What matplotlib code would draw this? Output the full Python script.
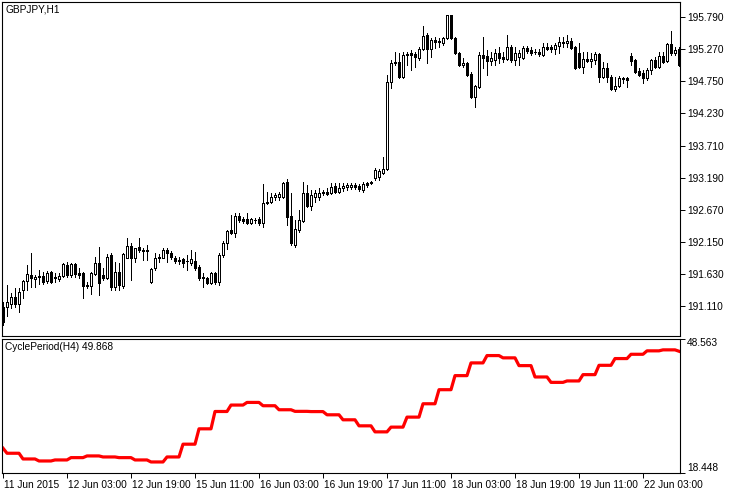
import numpy as np
import matplotlib.pyplot as plt
from matplotlib.transforms import ScaledTranslation

plt.rcParams['font.family'] = ['Liberation Sans', 'DejaVu Sans']

# GBPJPY H1 candles, 11 Jun 2015 11:00 onwards
opens = [191.10, 191.10, 191.15, 191.26, 191.15, 191.37, 191.52, 191.62, 191.55, 191.58,
         191.60, 191.52, 191.66, 191.58, 191.55, 191.60, 191.78, 191.62, 191.79, 191.65,
         191.65, 191.46, 191.44, 191.63, 191.81, 191.62, 191.57, 191.94, 191.42, 191.66,
         191.44, 191.89, 192.09, 191.89, 192.07, 192.02, 192.02, 191.50, 191.73, 191.91,
         191.89, 192.02, 191.97, 191.89, 191.86, 191.87, 191.84, 191.81, 191.84, 191.75,
         191.58, 191.57, 191.49, 191.65, 191.50, 191.94, 192.13, 192.34, 192.30, 192.57,
         192.52, 192.52, 192.46, 192.51, 192.52, 192.46, 192.80, 192.80, 192.88, 192.88,
         192.88, 193.12, 192.57, 192.10, 192.34, 192.49, 192.94, 192.73, 192.88, 192.88,
         192.94, 192.96, 192.94, 193.06, 192.96, 193.02, 193.04, 193.04, 193.07, 193.06,
         192.99, 193.10, 193.12, 193.19, 193.20, 193.27, 193.33, 194.74, 195.06, 195.06,
         194.82, 195.19, 195.21, 195.19, 195.13, 195.27, 195.50, 195.27, 195.42, 195.39,
         195.37, 195.45, 195.82, 195.45, 195.21, 195.01, 195.05, 194.87, 194.50, 194.66,
         195.18, 195.16, 195.08, 195.09, 195.21, 195.14, 195.11, 195.30, 195.09, 195.14,
         195.13, 195.29, 195.26, 195.22, 195.22, 195.18, 195.30, 195.30, 195.27, 195.32,
         195.37, 195.37, 195.40, 195.30, 195.21, 194.98, 195.11, 195.08, 195.09, 195.19,
         194.82, 194.97, 194.82, 194.63, 194.67, 194.80, 194.80, 195.16, 195.09, 194.92,
         194.88, 194.80, 194.93, 195.09, 194.98, 195.16, 195.08, 195.35, 195.21, 195.27]
highs = [191.18, 191.46, 191.33, 191.41, 191.41, 191.54, 191.78, 191.97, 191.62, 191.70,
         191.66, 191.68, 191.68, 191.65, 191.65, 191.81, 191.83, 191.81, 191.81, 191.73,
         191.66, 191.50, 191.66, 191.91, 192.07, 191.73, 191.96, 191.97, 191.83, 191.81,
         191.97, 192.22, 192.13, 192.05, 192.22, 192.05, 192.10, 191.73, 191.97, 191.96,
         192.05, 192.05, 192.00, 191.92, 191.91, 191.89, 191.94, 192.02, 191.99, 191.78,
         191.65, 191.58, 191.66, 191.66, 191.97, 192.17, 192.34, 192.59, 192.62, 192.62,
         192.56, 192.62, 192.54, 192.54, 192.56, 193.09, 192.96, 192.94, 192.94, 192.96,
         193.12, 193.17, 192.94, 192.51, 192.67, 193.12, 193.07, 192.99, 192.99, 193.02,
         192.99, 193.02, 193.10, 193.10, 193.10, 193.10, 193.10, 193.10, 193.10, 193.09,
         193.12, 193.12, 193.14, 193.35, 193.33, 193.53, 194.85, 195.09, 195.22, 195.21,
         195.22, 195.22, 195.26, 195.22, 195.30, 195.64, 195.53, 195.45, 195.47, 195.45,
         195.47, 195.82, 195.82, 195.47, 195.22, 195.13, 195.06, 194.90, 194.69, 195.22,
         195.47, 195.26, 195.22, 195.27, 195.30, 195.22, 195.50, 195.34, 195.30, 195.26,
         195.32, 195.32, 195.30, 195.27, 195.27, 195.37, 195.37, 195.34, 195.37, 195.47,
         195.47, 195.50, 195.45, 195.32, 195.37, 195.22, 195.22, 195.21, 195.22, 195.21,
         195.06, 195.05, 194.85, 194.82, 194.84, 194.82, 194.82, 195.21, 195.11, 194.97,
         194.93, 194.97, 195.11, 195.14, 195.22, 195.22, 195.37, 195.56, 195.30, 195.30]
lows = [190.81, 190.95, 191.08, 191.10, 191.02, 191.24, 191.37, 191.42, 191.42, 191.47,
        191.47, 191.49, 191.49, 191.50, 191.52, 191.58, 191.58, 191.58, 191.58, 191.57,
        191.24, 191.41, 191.31, 191.62, 191.29, 191.54, 191.55, 191.37, 191.37, 191.37,
        191.41, 191.89, 191.54, 191.83, 191.99, 191.86, 191.86, 191.49, 191.70, 191.83,
        191.89, 191.83, 191.87, 191.81, 191.79, 191.75, 191.70, 191.78, 191.70, 191.54,
        191.42, 191.47, 191.47, 191.47, 191.46, 191.91, 192.04, 192.28, 192.23, 192.47,
        192.46, 192.44, 192.44, 192.46, 192.43, 192.39, 192.77, 192.78, 192.83, 192.83,
        192.86, 192.43, 192.10, 192.07, 192.31, 192.47, 192.72, 192.67, 192.80, 192.83,
        192.91, 192.91, 192.93, 192.94, 192.94, 192.97, 192.99, 193.01, 193.01, 192.97,
        192.96, 193.04, 193.09, 193.15, 193.15, 193.25, 193.32, 194.64, 195.01, 194.80,
        194.80, 195.01, 194.93, 194.98, 195.09, 195.26, 195.05, 195.14, 195.29, 195.30,
        195.34, 195.43, 195.43, 195.19, 195.00, 194.98, 194.84, 194.48, 194.33, 194.64,
        194.97, 194.85, 195.01, 195.01, 195.05, 195.06, 195.09, 195.06, 195.01, 195.01,
        195.11, 195.21, 195.18, 195.19, 195.16, 195.16, 195.26, 195.22, 195.19, 195.21,
        195.30, 195.30, 195.27, 194.95, 194.97, 194.88, 195.06, 194.98, 195.03, 194.74,
        194.80, 194.74, 194.61, 194.59, 194.66, 194.72, 194.66, 195.01, 194.88, 194.84,
        194.72, 194.77, 194.87, 194.97, 194.97, 195.05, 195.06, 195.18, 195.18, 195.00]
closes = [190.86, 191.18, 191.26, 191.15, 191.34, 191.52, 191.63, 191.57, 191.58, 191.60,
          191.50, 191.65, 191.50, 191.57, 191.60, 191.79, 191.62, 191.79, 191.63, 191.62,
          191.44, 191.44, 191.65, 191.81, 191.49, 191.57, 191.91, 191.42, 191.66, 191.46,
          191.96, 192.09, 191.89, 192.05, 192.02, 192.01, 192.01, 191.71, 191.89, 191.89,
          192.02, 191.97, 191.91, 191.84, 191.84, 191.81, 191.85, 191.87, 191.73, 191.57,
          191.57, 191.49, 191.65, 191.50, 191.94, 192.13, 192.33, 192.30, 192.57, 192.51,
          192.49, 192.46, 192.52, 192.50, 192.46, 192.78, 192.78, 192.88, 192.91, 192.93,
          193.10, 192.56, 192.13, 192.36, 192.51, 192.94, 192.73, 192.91, 192.94, 192.94,
          192.96, 192.93, 193.04, 192.96, 193.02, 193.06, 193.07, 193.07, 193.04, 193.01,
          193.09, 193.07, 193.10, 193.32, 193.30, 193.33, 194.74, 195.05, 195.05, 194.82,
          195.18, 195.18, 195.18, 195.14, 195.27, 195.48, 195.27, 195.42, 195.39, 195.40,
          195.45, 195.82, 195.45, 195.21, 195.01, 195.05, 194.85, 194.50, 194.67, 195.18,
          195.13, 195.08, 195.13, 195.21, 195.13, 195.11, 195.30, 195.09, 195.21, 195.21,
          195.29, 195.24, 195.21, 195.23, 195.19, 195.30, 195.27, 195.27, 195.34, 195.39,
          195.39, 195.40, 195.29, 194.97, 194.98, 195.11, 195.08, 195.11, 195.19, 194.82,
          194.97, 194.82, 194.63, 194.67, 194.80, 194.79, 194.77, 195.08, 194.90, 194.85,
          194.80, 194.93, 195.09, 194.98, 195.16, 195.06, 195.35, 195.21, 195.26, 195.01]

# CyclePeriod(H4) values; each H4 value spans its H1 bars
cycle_h4 = [24.00, 22.87, 21.59, 21.14, 21.37, 21.89, 22.27, 22.04, 21.89, 21.37,
            20.92, 22.04, 24.90, 28.34, 32.22, 33.66, 34.25, 33.51, 32.61, 32.25,
            32.20, 31.48, 30.36, 29.01, 27.66, 28.72, 30.96, 33.95, 37.10, 40.25,
            43.10, 44.74, 44.23, 42.49, 39.95, 38.74, 39.06, 40.47, 42.56, 44.07,
            45.03, 45.80, 46.02, 45.71]
h1_bars_per_h4 = [1] + [4] * 42 + [1]

price_ticks = [191.110, 191.630, 192.150, 192.670, 193.190,
               193.710, 194.230, 194.750, 195.270, 195.790]
time_pos = [0, 16, 32, 48, 64, 80, 96, 112, 128, 144, 160]
time_labels = ['11 Jun 2015', '12 Jun 03:00', '12 Jun 19:00', '15 Jun 11:00',
               '16 Jun 03:00', '16 Jun 19:00', '17 Jun 11:00', '18 Jun 03:00',
               '18 Jun 19:00', '19 Jun 11:00', '22 Jun 03:00']

o = np.array(opens); h = np.array(highs); l = np.array(lows); c = np.array(closes)
x = np.arange(len(o))
cycle = np.repeat(cycle_h4, h1_bars_per_h4)

FS = 7.3
W, H = 731, 493
fig = plt.figure(figsize=(W / 100, H / 100), dpi=100)
ax = fig.add_axes([1.5 / W, (H - 335.5) / H, 678.5 / W, 334 / H])
ax2 = fig.add_axes([1.5 / W, (H - 473) / H, 678.5 / W, 134.5 / H])

# candles: wick first, body on top
ax.vlines(x, l, h, color='black', lw=0.72, antialiased=False, zorder=2)
up = c >= o
body_lo = np.minimum(o, c)
body_h = np.abs(c - o)
ax.bar(x, body_h, bottom=body_lo, width=0.45,
       color=np.where(up, 'white', 'black'), edgecolor='black', lw=0.72,
       antialiased=False, zorder=3)

ax.set_xlim(-0.375, 169.25)
ax.set_ylim(190.638, 196.041)
ax.yaxis.tick_right()
ax.set_yticks(price_ticks)
ax.set_yticklabels(['%.3f' % t for t in price_ticks])
ax.set_xticks([])
ax.tick_params(axis='y', direction='out', length=3.5, width=0.7, pad=1.5,
               labelsize=FS)

# indicator
ax2.plot(x, cycle, color='#ff0000', lw=2.3)
ax2.set_xlim(-0.375, 169.25)
ax2.set_ylim(18.448, 48.563)
ax2.yaxis.tick_right()
ax2.set_yticks([18.448, 48.563])
ax2.set_yticklabels(['18.448', '48.563'])
ax2.tick_params(axis='y', direction='out', length=3.5, width=0.7, pad=1.5,
                labelsize=FS)
yt = ax2.yaxis.get_major_ticks()
yt[0].label2.set_verticalalignment('bottom')
yt[1].label2.set_verticalalignment('top')

ax2.set_xticks(time_pos)
ax2.set_xticklabels(time_labels)
ax2.tick_params(axis='x', direction='out', length=3.5, width=0.7, pad=1.5,
                labelsize=FS)
shift = ScaledTranslation(1.5 / 100, 0, fig.dpi_scale_trans)
for lab in ax2.get_xticklabels():
    lab.set_horizontalalignment('left')
    lab.set_transform(lab.get_transform() + shift)

for a in (ax, ax2):
    for s in a.spines.values():
        s.set_linewidth(0.8)

fig.text(5 / W, 1 - 9 / H, 'GBPJPY,H1', fontsize=FS, va='center', ha='left')
fig.text(5 / W, 1 - 347 / H, 'CyclePeriod(H4) 49.868', fontsize=FS,
         va='center', ha='left')

fig.savefig('out.png', dpi=100, facecolor='white')
